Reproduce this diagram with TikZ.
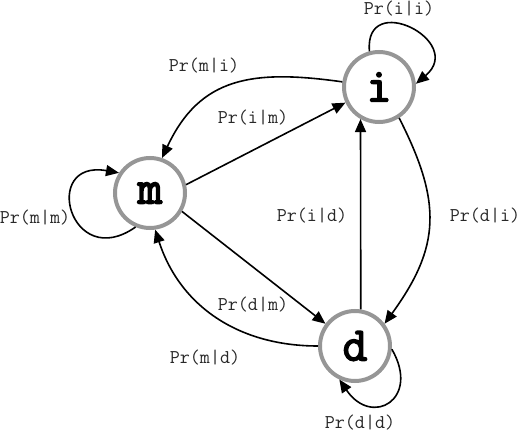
\documentclass[tikz,border=0pt]{standalone}
\usepackage{fontspec}
\newfontfamily\statefont[FakeBold=3.2]{Latin Modern Mono}
\usetikzlibrary{arrows.meta}
\definecolor{ringgray}{RGB}{150,150,150}
\definecolor{labelgray}{RGB}{40,40,40}
\tikzset{
  state/.style={circle, draw=ringgray, line width=4pt, fill=white, minimum size=70pt, inner sep=0pt,
    font=\fontsize{48}{48}\selectfont\statefont},
  edge/.style={line width=1.6pt, -{Triangle[length=13pt,width=11pt]}},
  plabel/.style={font=\fontsize{19.5}{21}\selectfont\ttfamily, text=labelgray, inner sep=0pt}
}
\begin{document}
\begin{tikzpicture}[x=1pt,y=1pt]
\useasboundingbox (0,0) rectangle (520,432);
\node[state] (i) at (379,345) {i};
\node[state] (m) at (150,239) {m};
\node[state] (d) at (355,86) {d};

% straight edges
\draw[edge] (m.13) -- (i.205);
\draw[edge] (m.-30) -- (d.143);
\draw[edge] (d.81) -- (i.240);

% curved edges
\draw[edge] (i.172) .. controls +(172:90) and +(65:90) .. (m.71);
\draw[edge] (d.180) .. controls +(180:80) and +(-72:80) .. (m.-82);
\draw[edge] (i.-57) .. controls +(-63:95) and +(54:95) .. (d.37);

% self loops
\draw[edge] (i.105) .. controls +(95:62) and +(40:66) .. (i.5);
\draw[edge] (m.247) .. controls +(215:80) and +(170:80) .. (m.147);
\draw[edge] (d.-5) .. controls +(-60:58) and +(-56:58) .. (d.245);

% labels
\node[plabel, anchor=base] (lii) at (399,417) {Pr(i|i)};
\node[plabel] (lmi) at (204,366) {Pr(m|i)};
\node[plabel] (lim) at (253,314) {Pr(i|m)};
\node[plabel] (lmm) at (35,214) {Pr(m|m)};
\node[plabel] (lid) at (312,216) {Pr(i|d)};
\node[plabel] (ldi) at (485,216) {Pr(d|i)};
\node[plabel] (ldm) at (253,127) {Pr(d|m)};
\node[plabel] (lmd) at (205,74) {Pr(m|d)};
\node[plabel, anchor=base] (ldd) at (360,3.5) {Pr(d|d)};
\end{tikzpicture}
\end{document}
